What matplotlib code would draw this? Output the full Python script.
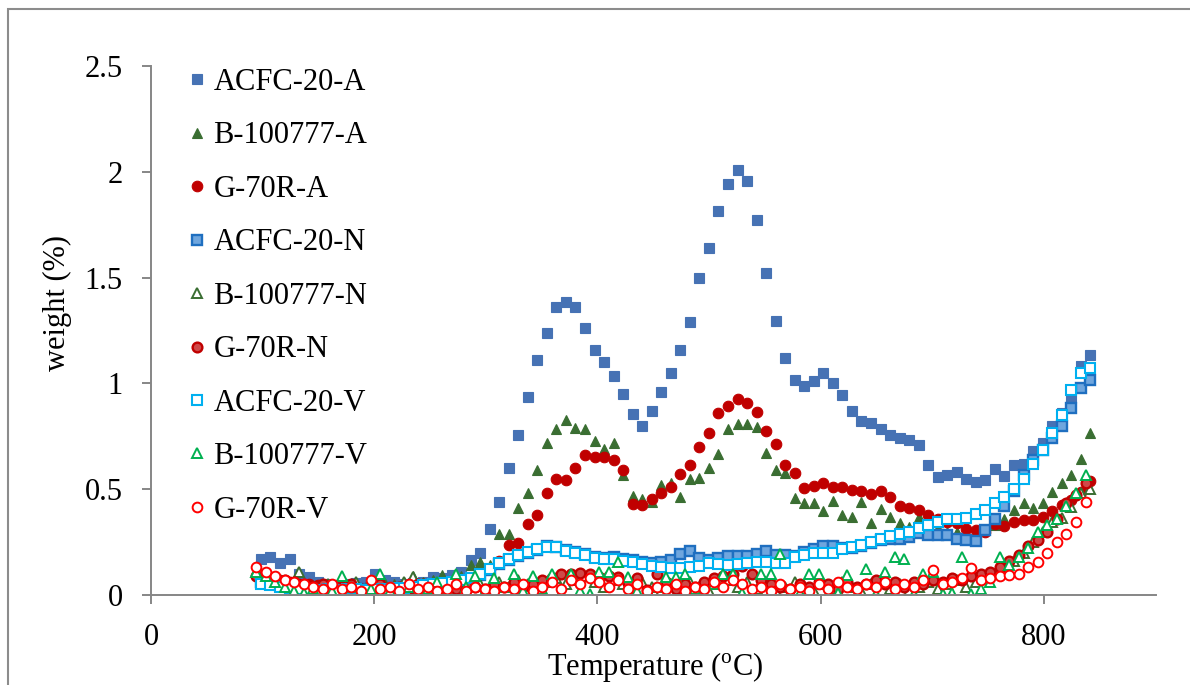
import matplotlib
matplotlib.use("Agg")
import matplotlib.pyplot as plt
from matplotlib.patches import Rectangle

plt.rcParams['font.family'] = ['Liberation Serif', 'DejaVu Serif']
plt.rcParams['mathtext.fontset'] = 'custom'
plt.rcParams['mathtext.rm'] = 'Liberation Serif'

# ---------------- data ----------------
temp_main = [98.5, 107.0, 115.6, 124.1, 132.7, 141.2, 149.7, 158.3, 166.8, 175.4,
             183.9, 192.4, 201.0, 209.5, 218.1, 226.6, 235.1, 243.7, 252.2, 260.8,
             269.3, 277.8, 286.4, 294.9, 303.5, 312.0, 320.5, 329.1, 337.6, 346.2,
             354.7, 363.2, 371.8, 380.3, 388.9, 397.4, 405.9, 414.5, 423.0, 431.6,
             440.1, 448.6, 457.2, 465.7, 474.3, 482.8, 491.3, 499.9, 508.4, 517.0,
             525.5, 534.0, 542.6, 551.1, 559.7, 568.2, 576.7, 585.3, 593.8, 602.4,
             610.9, 619.4, 628.0, 636.5, 645.1, 653.6, 662.1, 670.7, 679.2, 687.8,
             696.3, 704.8, 713.4, 721.9, 730.5, 739.0, 747.5, 756.1, 764.6, 773.2,
             781.7, 790.2, 798.8, 807.3, 815.9, 824.4, 832.9, 841.5]

temp_shift = [94.2, 102.7, 111.3, 119.8, 128.4, 136.9, 145.4, 154.0, 162.5, 171.1,
              179.6, 188.1, 196.7, 205.2, 213.8, 222.3, 230.8, 239.4, 247.9, 256.5,
              265.0, 273.5, 282.1, 290.6, 299.2, 307.7, 316.2, 324.8, 333.3, 341.9,
              350.4, 358.9, 367.5, 376.0, 384.6, 393.1, 401.6, 410.2, 418.7, 427.3,
              435.8, 444.3, 452.9, 461.4, 470.0, 478.5, 487.0, 495.6, 504.1, 512.7,
              521.2, 529.7, 538.3, 546.8, 555.4, 563.9, 572.4, 581.0, 589.5, 598.1,
              606.6, 615.1, 623.7, 632.2, 640.8, 649.3, 657.8, 666.4, 674.9, 683.5,
              692.0, 700.5, 709.1, 717.6, 726.2, 734.7, 743.2, 751.8, 760.3, 768.9,
              777.4, 785.9, 794.5, 803.0, 811.6, 820.1, 828.6, 837.2]

acfc_a = [0.17, 0.18, 0.15, 0.17, 0.10, 0.085, 0.06, 0.05, 0.045, 0.05,
          0.055, 0.06, 0.10, 0.07, 0.063, 0.05, 0.055, 0.06, 0.085, 0.08,
          0.095, 0.11, 0.165, 0.20, 0.31, 0.44, 0.60, 0.755, 0.935, 1.11,
          1.24, 1.36, 1.385, 1.36, 1.26, 1.16, 1.10, 1.035, 0.95, 0.855,
          0.80, 0.87, 0.96, 1.05, 1.16, 1.29, 1.50, 1.64, 1.815, 1.94,
          2.01, 1.955, 1.77, 1.52, 1.295, 1.12, 1.016, 0.99, 1.01, 1.05,
          1.00, 0.945, 0.87, 0.82, 0.815, 0.785, 0.756, 0.742, 0.733, 0.71,
          0.615, 0.56, 0.567, 0.58, 0.55, 0.535, 0.543, 0.595, 0.562, 0.614,
          0.62, 0.68, 0.72, 0.80, 0.86, 0.93, 1.08, 1.135]

b_a = [0.10, 0.09, 0.07, 0.06, 0.05, 0.045, 0.04, 0.04, 0.035, 0.04,
       0.045, 0.04, 0.05, 0.045, 0.05, 0.06, 0.09, 0.06, 0.07, 0.095,
       0.07, 0.09, 0.14, 0.155, 0.14, 0.29, 0.29, 0.41, 0.48, 0.59,
       0.72, 0.785, 0.827, 0.79, 0.785, 0.73, 0.69, 0.72, 0.567, 0.47,
       0.455, 0.44, 0.52, 0.53, 0.465, 0.548, 0.553, 0.60, 0.666, 0.785,
       0.81, 0.81, 0.794, 0.67, 0.59, 0.576, 0.46, 0.434, 0.437, 0.397,
       0.442, 0.378, 0.37, 0.44, 0.342, 0.406, 0.37, 0.34, 0.32, 0.37,
       0.346, 0.316, 0.30, 0.30, 0.29, 0.30, 0.31, 0.33, 0.36, 0.40,
       0.433, 0.41, 0.433, 0.488, 0.528, 0.567, 0.643, 0.767]

g_a = [0.09, 0.08, 0.07, 0.06, 0.05, 0.05, 0.045, 0.04, 0.04, 0.035,
       0.04, 0.035, 0.04, 0.035, 0.04, 0.045, 0.04, 0.05, 0.045, 0.05,
       0.06, 0.07, 0.08, 0.10, 0.123, 0.163, 0.235, 0.248, 0.334, 0.38,
       0.48, 0.547, 0.543, 0.60, 0.66, 0.65, 0.65, 0.638, 0.59, 0.43,
       0.425, 0.453, 0.48, 0.51, 0.572, 0.614, 0.70, 0.764, 0.862, 0.895,
       0.925, 0.909, 0.865, 0.775, 0.714, 0.613, 0.577, 0.505, 0.516, 0.527,
       0.509, 0.51, 0.495, 0.493, 0.478, 0.491, 0.462, 0.422, 0.41, 0.402,
       0.378, 0.359, 0.346, 0.339, 0.31, 0.307, 0.30, 0.334, 0.326, 0.346,
       0.354, 0.354, 0.367, 0.396, 0.425, 0.449, 0.488, 0.539]

acfc_n = [0.06, 0.05, 0.045, 0.04, 0.035, 0.03, 0.03, 0.025, 0.03, 0.025,
          0.03, 0.03, 0.025, 0.03, 0.03, 0.035, 0.035, 0.04, 0.045, 0.05,
          0.055, 0.065, 0.075, 0.095, 0.12, 0.145, 0.165, 0.185, 0.20, 0.215,
          0.232, 0.228, 0.215, 0.205, 0.192, 0.18, 0.175, 0.18, 0.17, 0.165,
          0.158, 0.15, 0.155, 0.165, 0.193, 0.208, 0.173, 0.165, 0.175, 0.184,
          0.184, 0.185, 0.195, 0.21, 0.189, 0.189, 0.185, 0.205, 0.216, 0.232,
          0.232, 0.22, 0.22, 0.232, 0.244, 0.26, 0.264, 0.266, 0.276, 0.292,
          0.284, 0.282, 0.284, 0.266, 0.258, 0.256, 0.305, 0.358, 0.422, 0.49,
          0.567, 0.638, 0.685, 0.74, 0.80, 0.885, 0.98, 1.016]

b_n = [0.10, 0.08, 0.07, 0.05, 0.11, 0.04, 0.03, 0.05, 0.02, 0.04,
       0.06, 0.03, 0.04, 0.05, 0.03, 0.06, 0.087, 0.04, 0.05, 0.03,
       0.06, 0.04, 0.07, 0.05, 0.03, 0.06, 0.04, 0.07, 0.05, 0.03,
       0.06, 0.08, 0.05, 0.07, 0.09, 0.06, 0.04, 0.07, 0.05, 0.03,
       0.06, 0.04, 0.02, 0.05, 0.03, 0.06, 0.04, 0.02, 0.05, 0.07,
       0.04, 0.06, 0.03, 0.05, 0.02, 0.04, 0.06, 0.03, 0.02, 0.05,
       0.03, 0.06, 0.04, 0.02, 0.05, 0.07, 0.03, 0.05, 0.02, 0.04,
       0.06, 0.03, 0.05, 0.07, 0.04, 0.06, 0.08, 0.10, 0.13, 0.16,
       0.20, 0.25, 0.30, 0.346, 0.362, 0.417, 0.48, 0.50]

g_n = [0.09, 0.10, 0.08, 0.07, 0.06, 0.05, 0.04, 0.05, 0.03, 0.04,
       0.05, 0.03, 0.04, 0.05, 0.03, 0.04, 0.03, 0.05, 0.04, 0.02,
       0.04, 0.03, 0.05, 0.04, 0.03, 0.05, 0.04, 0.06, 0.04, 0.05,
       0.07, 0.08, 0.10, 0.10, 0.105, 0.10, 0.087, 0.09, 0.087, 0.055,
       0.079, 0.024, 0.10, 0.06, 0.03, 0.05, 0.04, 0.06, 0.08, 0.09,
       0.10, 0.137, 0.10, 0.07, 0.05, 0.04, 0.03, 0.05, 0.04, 0.06,
       0.05, 0.03, 0.06, 0.04, 0.05, 0.07, 0.05, 0.06, 0.04, 0.06,
       0.05, 0.07, 0.06, 0.08, 0.07, 0.09, 0.10, 0.11, 0.13, 0.16,
       0.19, 0.23, 0.26, 0.30, 0.36, 0.433, 0.472, 0.53]

acfc_v = [0.05, 0.045, 0.04, 0.035, 0.03, 0.03, 0.025, 0.03, 0.025, 0.03,
          0.03, 0.025, 0.03, 0.03, 0.035, 0.035, 0.04, 0.045, 0.05, 0.055,
          0.06, 0.07, 0.08, 0.10, 0.125, 0.15, 0.17, 0.19, 0.205, 0.216,
          0.228, 0.225, 0.21, 0.20, 0.19, 0.175, 0.17, 0.168, 0.16, 0.155,
          0.148, 0.138, 0.134, 0.128, 0.126, 0.13, 0.137, 0.151, 0.145, 0.142,
          0.145, 0.15, 0.155, 0.158, 0.153, 0.153, 0.181, 0.19, 0.20, 0.197,
          0.20, 0.216, 0.225, 0.236, 0.252, 0.265, 0.279, 0.29, 0.30, 0.315,
          0.33, 0.346, 0.358, 0.358, 0.362, 0.383, 0.40, 0.434, 0.465, 0.50,
          0.547, 0.618, 0.685, 0.767, 0.85, 0.969, 1.048, 1.071]

b_v = [0.11, 0.09, 0.06, 0.04, 0.02, 0.01, 0.03, 0.005, 0.02, 0.09,
       0.04, 0.01, 0.03, 0.10, 0.02, 0.005, 0.04, 0.01, 0.03, 0.06,
       0.02, 0.10, 0.04, 0.09, 0.02, 0.08, 0.04, 0.10, 0.02, 0.09,
       0.03, 0.10, 0.01, 0.10, 0.02, 0.005, 0.11, 0.11, 0.155, 0.087,
       0.02, 0.005, 0.04, 0.087, 0.087, 0.10, 0.03, 0.005, 0.05, 0.10,
       0.10, 0.01, 0.005, 0.10, 0.10, 0.195, 0.005, 0.01, 0.10, 0.10,
       0.005, 0.01, 0.095, 0.005, 0.125, 0.005, 0.11, 0.18, 0.17, 0.005,
       0.10, 0.11, 0.005, 0.01, 0.18, 0.005, 0.03, 0.06, 0.178, 0.14,
       0.18, 0.22, 0.30, 0.33, 0.36, 0.42, 0.48, 0.567]

g_v = [0.13, 0.11, 0.09, 0.07, 0.06, 0.05, 0.04, 0.03, 0.05, 0.03,
       0.04, 0.02, 0.07, 0.03, 0.04, 0.02, 0.05, 0.03, 0.04, 0.02,
       0.03, 0.05, 0.02, 0.04, 0.03, 0.02, 0.04, 0.03, 0.05, 0.02,
       0.04, 0.06, 0.03, 0.07, 0.05, 0.08, 0.06, 0.04, 0.07, 0.03,
       0.05, 0.02, 0.04, 0.03, 0.05, 0.02, 0.04, 0.03, 0.06, 0.04,
       0.07, 0.05, 0.03, 0.04, 0.02, 0.05, 0.03, 0.04, 0.02, 0.05,
       0.03, 0.06, 0.04, 0.03, 0.05, 0.04, 0.06, 0.03, 0.05, 0.04,
       0.07, 0.118, 0.05, 0.06, 0.08, 0.126, 0.07, 0.08, 0.09, 0.095,
       0.10, 0.13, 0.157, 0.197, 0.252, 0.29, 0.346, 0.44]

series_labels = ["ACFC-20-A", "B-100777-A", "G-70R-A",
                 "ACFC-20-N", "B-100777-N", "G-70R-N",
                 "ACFC-20-V", "B-100777-V", "G-70R-V"]

x_ticks = [0, 200, 400, 600, 800]
y_ticks = [0, 0.5, 1, 1.5, 2, 2.5]
y_tick_labels = ["0", "0.5", "1", "1.5", "2", "2.5"]

# ---------------- figure ----------------
W, H = 1190, 685
fig = plt.figure(figsize=(W / 100, H / 100), dpi=100)
ax = fig.add_axes([151 / W, 1 - 595 / H, (1155.6 - 151) / W, (595 - 66) / H])

# outer chart border
fig.patches.append(Rectangle((7.5 / W, -0.05), 1.2, 1 - 9 / H + 0.05,
                             transform=fig.transFigure, fill=False,
                             edgecolor='#8C8C8C', linewidth=1.5, zorder=0))

styles = [
    (temp_main, acfc_a, dict(marker='s', ms=7.2, mfc='#4672B4', mec='#4672B4', mew=0.8)),
    (temp_main, b_a, dict(marker='^', ms=7.4, mfc='#3A6E32', mec='#3A6E32', mew=0.8)),
    (temp_main, g_a, dict(marker='o', ms=7.6, mfc='#C00000', mec='#C00000', mew=0.8)),
    (temp_main, acfc_n, dict(marker='s', ms=6.8, mfc='#6FA6DE', mec='#1F6FC0', mew=1.7)),
    (temp_main, b_n, dict(marker='^', ms=7.0, mfc='white', mec='#3A6E32', mew=1.4)),
    (temp_shift, g_n, dict(marker='o', ms=7.0, mfc='#CF4848', mec='#C00000', mew=1.7)),
    (temp_main, acfc_v, dict(marker='s', ms=6.8, mfc='white', mec='#00B0F0', mew=1.5)),
    (temp_shift, b_v, dict(marker='^', ms=7.0, mfc='white', mec='#00B050', mew=1.4)),
    (temp_shift, g_v, dict(marker='o', ms=7.0, mfc='white', mec='#FF0000', mew=1.4)),
]

handles = []
for (tx, vals, st), lab in zip(styles, series_labels):
    h, = ax.plot(tx, vals, linestyle='none', label=lab, **st)
    handles.append(h)

ax.set_xlim(0, 900)
ax.set_ylim(0, 2.5)
ax.set_xticks(x_ticks)
ax.set_xticklabels([str(t) for t in x_ticks])
ax.set_yticks(y_ticks)
ax.set_yticklabels(y_tick_labels)

for s in ['top', 'right']:
    ax.spines[s].set_visible(False)
for s in ['left', 'bottom']:
    ax.spines[s].set_color('#868686')
    ax.spines[s].set_linewidth(1.4)

ax.tick_params(axis='both', direction='out', length=6.5, width=1.4,
               color='#868686', labelsize=22, labelcolor='black', pad=14)

fig.text(57 / W, 1 - 303 / H, 'weight (%)', rotation=90, ha='center',
         va='center', fontsize=22)
fig.text(655 / W, 1 - 667 / H, r'Temperature ($^{\mathrm{o}}$C)', ha='center',
         va='center', fontsize=22)

leg = ax.legend(handles=handles, loc='upper left',
                bbox_to_anchor=(189 / W, 1 - 68 / H), bbox_transform=fig.transFigure,
                frameon=False, fontsize=22, handlelength=0.5, handletextpad=0.3,
                labelspacing=0.8, borderpad=0, borderaxespad=0, numpoints=1)

fig.savefig('out.png', dpi=100)
